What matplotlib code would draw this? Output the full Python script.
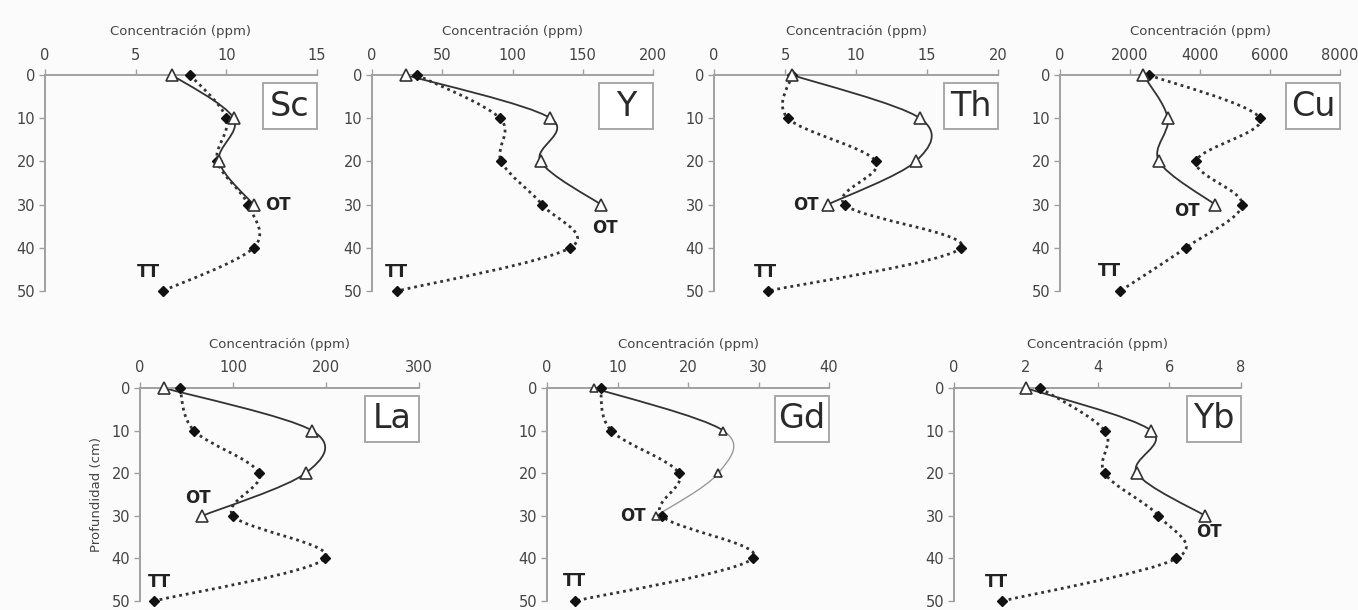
import numpy as np
import matplotlib
matplotlib.use("Agg")
import matplotlib.pyplot as plt
from matplotlib.path import Path
from matplotlib.patches import PathPatch, Rectangle

# depths (cm)
depth_ot = [0, 10, 20, 30]
depth_tt = [0, 10, 20, 30, 40, 50]

elements = ["Sc", "Y", "Th", "Cu", "La", "Gd", "Yb"]
xmax = [15, 200, 20, 8000, 300, 40, 8]
xstep = [5, 50, 5, 2000, 100, 10, 2]

sc_ot = [7.0, 10.4, 9.6, 11.5]
sc_tt = [8.0, 10.0, 9.5, 11.2, 11.5, 6.5]
y_ot = [24, 127, 120, 163]
y_tt = [32, 91, 92, 121, 141, 18]
th_ot = [5.5, 14.5, 14.2, 8.0]
th_tt = [5.5, 5.2, 11.4, 9.2, 17.4, 3.8]
cu_ot = [2380, 3080, 2830, 4430]
cu_tt = [2540, 5710, 3890, 5200, 3590, 1720]
la_ot = [26, 185, 178, 67]
la_tt = [43, 58, 128, 100, 199, 15]
gd_ot = [6.6, 25.0, 24.3, 15.5]
gd_tt = [7.6, 9.1, 18.7, 16.3, 29.2, 4.0]
yb_ot = [2.0, 5.5, 5.1, 7.0]
yb_tt = [2.4, 4.2, 4.2, 5.7, 6.2, 1.35]

ot_vals = [sc_ot, y_ot, th_ot, cu_ot, la_ot, gd_ot, yb_ot]
tt_vals = [sc_tt, y_tt, th_tt, cu_tt, la_tt, gd_tt, yb_tt]

# layout in pixels: left, top, right, bottom
W, H = 1358, 610
rects = [(45, 75, 317, 291), (372, 75, 653, 291), (714, 75, 998, 291),
         (1060, 75, 1340, 291), (140, 388, 419, 601), (547, 388, 829, 601),
         (954, 388, 1241, 601)]
# label offsets in pixels (dx, dy up)
ot_off = [(24, 0), (4, -23), (-22, 0), (-28, -6), (-4, 18), (-23, 0), (4, -16)]
tt_off = [(-14, 19), (-1, 19), (-3, 19), (-11, 20), (5, 19), (-1, 20), (-6, 19)]

DARK = "#333333"
GREY = "#9a9a9a"


def smooth_segments(x, y):
    # excel style smoothed line, one bezier per segment
    p = np.column_stack([x, y]).astype(float)
    n = len(p)
    segs = []
    for i in range(n - 1):
        p0 = p[i - 1] if i > 0 else p[i]
        p3 = p[i + 2] if i + 2 < n else p[i + 1]
        c1 = p[i] + (p[i + 1] - p0) / 6
        c2 = p[i + 1] - (p3 - p[i]) / 6
        segs.append([p[i], c1, c2, p[i + 1]])
    return segs


def seg_path(segs):
    verts = [segs[0][0]]
    codes = [Path.MOVETO]
    for s in segs:
        verts += [s[1], s[2], s[3]]
        codes += [Path.CURVE4] * 3
    return Path(verts, codes)


fig = plt.figure(figsize=(W / 100, H / 100), dpi=100, facecolor="#fbfbfb")

for k, el in enumerate(elements):
    l, t, r, b = rects[k]
    ax = fig.add_axes([l / W, 1 - b / H, (r - l) / W, (b - t) / H])
    ax.set_facecolor("#fbfbfb")
    ax.set_xlim(0, xmax[k])
    ax.set_ylim(50, 0)
    ax.set_xticks(np.arange(0, xmax[k] + 1e-9, xstep[k]))
    ax.set_yticks(depth_tt)
    ax.xaxis.tick_top()
    ax.xaxis.set_label_position("top")
    ax.set_xlabel("Concentración (ppm)", fontsize=9.5, color="#444444", labelpad=9)
    for s in ["right", "bottom"]:
        ax.spines[s].set_visible(False)
    for s in ["left", "top"]:
        ax.spines[s].set_color("#a0a0a0")
        ax.spines[s].set_linewidth(1.4)
    ax.tick_params(labelsize=10.5, labelcolor="#444444", color="#a0a0a0",
                   length=4, width=1)
    ax.tick_params(axis="x", pad=5)
    ax.tick_params(axis="y", pad=3)
    if el == "La":
        ax.set_ylabel("Profundidad (cm)", fontsize=9.5, color="#444444", labelpad=6)

    # TT dotted
    segs = smooth_segments(tt_vals[k], depth_tt)
    ax.add_patch(PathPatch(seg_path(segs), fill=False, edgecolor=DARK, lw=2.0,
                           linestyle=(0, (1.0, 1.4)), capstyle="butt", zorder=2))
    # OT solid
    segs = smooth_segments(ot_vals[k], depth_ot)
    if el == "Gd":
        ax.add_patch(PathPatch(seg_path(segs[:1]), fill=False, edgecolor=DARK,
                               lw=1.3, zorder=2))
        ax.add_patch(PathPatch(seg_path(segs[1:]), fill=False, edgecolor=GREY,
                               lw=1.0, zorder=2))
        tri_ms = 6
    else:
        ax.add_patch(PathPatch(seg_path(segs), fill=False, edgecolor=DARK,
                               lw=1.3, zorder=2))
        tri_ms = 8

    ax.plot(tt_vals[k], depth_tt, linestyle="none", marker="D", ms=5.5,
            color="#111111", zorder=4, clip_on=False)
    ax.plot(ot_vals[k], depth_ot, linestyle="none", marker="^", ms=tri_ms,
            mfc="white", mec=DARK, mew=1.2, zorder=5, clip_on=False)

    ax.annotate("OT", xy=(ot_vals[k][-1], depth_ot[-1]), xytext=ot_off[k],
                textcoords="offset pixels", ha="center", va="center",
                fontsize=12, fontweight="bold", color="#222222", zorder=6)
    ax.annotate("TT", xy=(tt_vals[k][-1], depth_tt[-1]), xytext=tt_off[k],
                textcoords="offset pixels", ha="center", va="center",
                fontsize=12, fontweight="bold", color="#222222", zorder=6)

    # element box, 54x46 px, right aligned, 8px below top
    aw, ah = r - l, b - t
    bw, bh = 54 / aw, 46 / ah
    by = 1 - 8 / ah - bh
    ax.add_patch(Rectangle((1 - bw, by), bw, bh, transform=ax.transAxes,
                           facecolor="white", edgecolor="#a8a8a8", lw=1.4,
                           clip_on=False, zorder=6))
    ax.text(1 - bw / 2, by + bh / 2, el, transform=ax.transAxes, ha="center",
            va="center", fontsize=24, color="#2a2a2a", zorder=7)

fig.savefig("out.png", dpi=100, facecolor=fig.get_facecolor())
